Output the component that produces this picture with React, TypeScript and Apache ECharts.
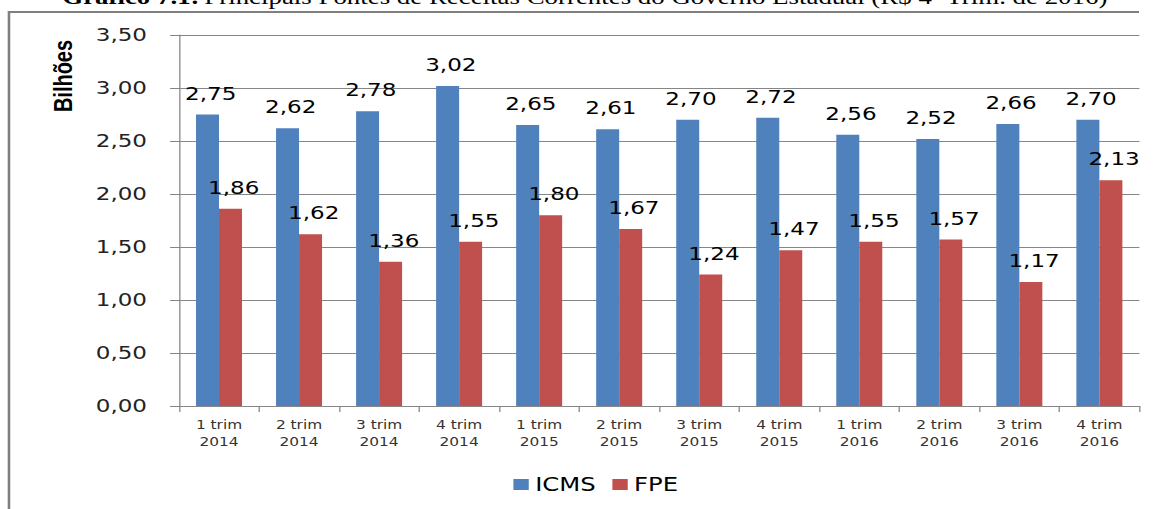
import React, { useEffect, useRef } from "react";
import * as echarts from "echarts";

const categories = [
  "1 trim\n2014", "2 trim\n2014", "3 trim\n2014", "4 trim\n2014",
  "1 trim\n2015", "2 trim\n2015", "3 trim\n2015", "4 trim\n2015",
  "1 trim\n2016", "2 trim\n2016", "3 trim\n2016", "4 trim\n2016",
];
const icms = [2.75, 2.62, 2.78, 3.02, 2.65, 2.61, 2.70, 2.72, 2.56, 2.52, 2.66, 2.70];
const fpe = [1.86, 1.62, 1.36, 1.55, 1.80, 1.67, 1.24, 1.47, 1.55, 1.57, 1.17, 2.13];
const titleBold = "Gráfico 7.1:";
const titleText = "Principais Fontes de Receitas Correntes do Governo Estadual (R$ 4º Trim. de 2016)";
const yAxisName = "Bilhões";

const fmt = (v: number) => v.toFixed(2).replace(".", ",");

// the reference picture is stretched horizontally; we draw narrower and stretch it the same way
const STRETCH = 1.28;
const W = 1158 / STRETCH;
const SANS = "DejaVu Sans";

export default function App() {
  const ref = useRef<HTMLDivElement>(null);
  useEffect(() => {
    document.body.style.margin = "0";
    const chart = echarts.init(ref.current!, undefined, { renderer: "svg" });
    const labelStyle = {
      show: true,
      position: "top" as const,
      distance: 12,
      offset: [2.5, 0],
      fontFamily: SANS,
      fontSize: 18,
      color: "#000",
      formatter: (p: any) => fmt(p.value),
    };
    chart.setOption({
      animation: false,
      backgroundColor: "#fff",
      textStyle: { fontFamily: SANS },
      grid: { left: 179 / STRETCH, right: 19 / STRETCH, top: 35, bottom: 103, containLabel: false },
      legend: {
        top: 470,
        left: 507 / STRETCH,
        padding: 5,
        itemWidth: 12,
        itemHeight: 11,
        itemGap: 13,
        icon: "rect",
        textStyle: { fontFamily: SANS, fontSize: 19, color: "#000" },
        data: ["ICMS", "FPE"],
      },
      xAxis: {
        type: "category",
        data: categories,
        axisLine: { lineStyle: { color: "#868686", width: 1 } },
        axisTick: { show: true, length: 6, lineStyle: { color: "#868686" } },
        axisLabel: {
          interval: 0,
          margin: 10,
          formatter: (v: string) => v.split("\n").map((s) => "{t|" + s + "}").join("\n"),
          rich: {
            t: { fontFamily: SANS, fontSize: 12, lineHeight: 17, color: "#333", align: "center" },
          },
        },
      },
      yAxis: {
        type: "value",
        min: 0,
        max: 3.5,
        interval: 0.5,
        axisLine: { show: true, lineStyle: { color: "#868686", width: 1 } },
        axisTick: { show: true, length: 7, lineStyle: { color: "#868686" } },
        splitLine: { lineStyle: { color: "#868686", width: 1 } },
        axisLabel: {
          fontFamily: SANS,
          fontSize: 18,
          color: "#222",
          margin: 25,
          formatter: (v: number) => fmt(v),
        },
      },
      series: [
        {
          name: "ICMS",
          type: "bar",
          data: icms,
          barWidth: 23 / STRETCH,
          barGap: "0%",
          itemStyle: { color: "#4F81BD" },
          label: labelStyle,
        },
        {
          name: "FPE",
          type: "bar",
          data: fpe,
          barWidth: 23 / STRETCH,
          barGap: "0%",
          itemStyle: { color: "#C0504D" },
          label: labelStyle,
        },
      ],
      graphic: [
        {
          type: "polyline",
          shape: { points: [[7, 520], [7, 12], [1139 / STRETCH, 12]] },
          style: { stroke: "#7f7f7f", lineWidth: 2, fill: "none" },
          silent: true,
        },
        {
          type: "text",
          x: 49,
          y: 76,
          rotation: Math.PI / 2,
          style: {
            text: yAxisName,
            fontFamily: "Liberation Sans",
            fontWeight: "bold",
            fontSize: 20,
            fill: "#000",
            align: "center",
            verticalAlign: "middle",
          },
          silent: true,
        },
        {
          type: "text",
          x: 585 / STRETCH,
          y: 8,
          style: {
            rich: {
              b: { fontFamily: "Liberation Serif", fontWeight: "bold", fontSize: 21, fill: "#000" },
              n: { fontFamily: "Liberation Serif", fontSize: 21, fill: "#000" },
            },
            text: "{b|" + titleBold + "} {n|" + titleText + "}",
            align: "center",
            verticalAlign: "bottom",
          },
          silent: true,
        },
      ],
    });
    return () => chart.dispose();
  }, []);
  return (
    <div style={{ width: 1158, height: 509, overflow: "hidden" }}>
      <div
        ref={ref}
        style={{ width: W, height: 509, transform: `scaleX(${STRETCH})`, transformOrigin: "0 0" }}
      />
    </div>
  );
}
